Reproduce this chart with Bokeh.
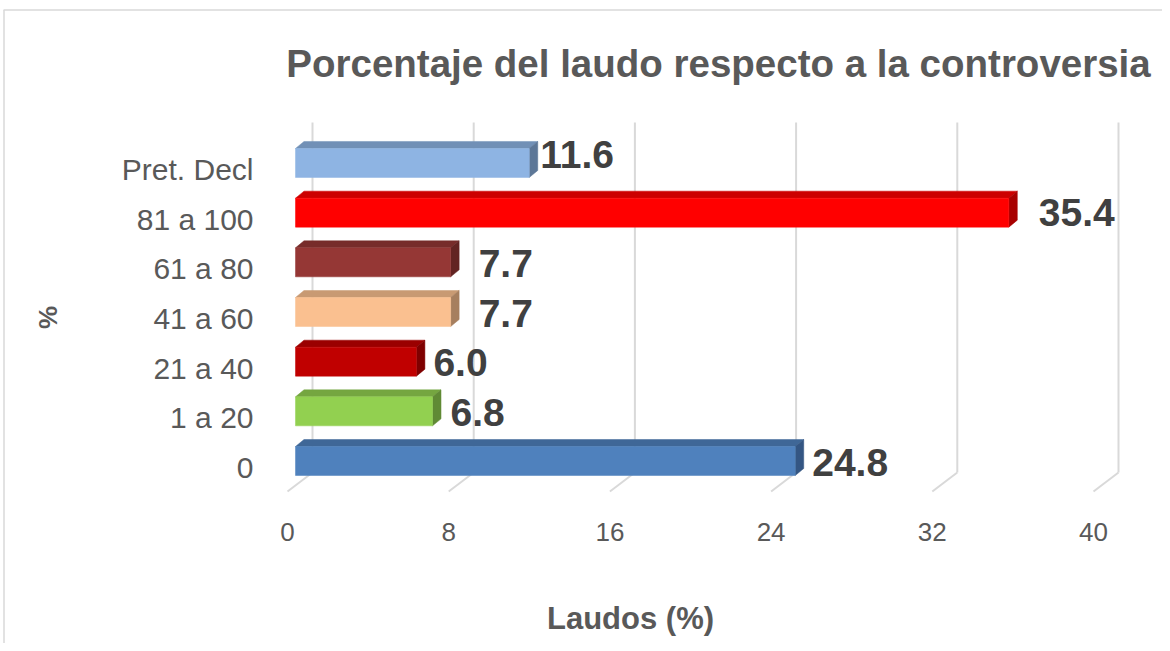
from bokeh.plotting import figure
from bokeh.models import Range1d
from bokeh.core.properties import value
from bokeh.embed import file_html
from bokeh.resources import INLINE

# ---- data (bottom to top) ----
categories = ["0", "1 a 20", "21 a 40", "41 a 60", "61 a 80", "81 a 100", "Pret. Decl"]
values = [24.8, 6.8, 6.0, 7.7, 7.7, 35.4, 11.6]
value_labels = ["24.8", "6.8", "6.0", "7.7", "7.7", "35.4", "11.6"]
x_ticks = [0, 8, 16, 24, 32, 40]
x_tick_labels = ["0", "8", "16", "24", "32", "40"]
title_text = "Porcentaje del laudo respecto a la controversia"
x_title = "Laudos (%)"
y_title = "%"

# ---- styles ----
front_colors = ["#4F81BD", "#92D050", "#C00000", "#FAC090", "#953735", "#FF0000", "#8EB4E3"]
top_colors = ["#3F6797", "#75A640", "#9A0000", "#C89A73", "#772C2A", "#CC0000", "#7190B6"]
side_colors = ["#345683", "#608A35", "#7F0000", "#A67F5F", "#622422", "#A80000", "#5D7797"]
label_dx_px = [17, 18, 17, 28, 28, 30, 11]
label_dy_px = [1, 1.5, 1, 2, 1, 0, -8]

FONT = "Liberation Sans"
W, H = 1162, 643
PX = 20.15      # pixels per x unit
X0S = 295       # screen x of value 0 (bar fronts)
PY = 49.67      # pixels per category step
Y0S = 460.5     # screen y of first category centre

VAL_FS = 39
CAT_FS = 30
TICK_FS = 26
TITLE_FS = 38.5
XT_FS = 31
YT_FS = 26


def sx(px):
    return (px - X0S) / PX


def sy(py):
    return (Y0S - py) / PY


def dx(px):
    return px / PX


def dy(px):
    return px / PY


p = figure(width=W, height=H, output_backend="svg", toolbar_location=None,
           x_range=Range1d(sx(0), sx(W)), y_range=Range1d(sy(H), sy(0)),
           min_border=0, x_axis_location=None, y_axis_location=None)
p.grid.visible = False
p.outline_line_color = None
p.background_fill_color = "white"
p.border_fill_color = "white"

# chart border (top and left)
p.segment(x0=[sx(3), sx(3.5)], y0=[sy(9.5), sy(9.5)], x1=[sx(W), sx(3.5)], y1=[sy(9.5), sy(H)],
          line_color="#D9D9D9", line_width=1.5)

# 3D gridlines: back wall verticals and floor diagonals
back = [t + dx(17) for t in x_ticks]
front = [t + dx(-8) for t in x_ticks]
p.segment(x0=back, y0=[sy(122)] * len(x_ticks), x1=back, y1=[sy(472)] * len(x_ticks),
          line_color="#D9D9D9", line_width=2)
p.segment(x0=back, y0=[sy(472)] * len(x_ticks), x1=front, y1=[sy(491)] * len(x_ticks),
          line_color="#D9D9D9", line_width=2)

# bars
hh = dy(14.5)
ddx = dx(8.5)
ddy = dy(7)
ys = list(range(len(categories)))
top_xs, top_ys, side_xs, side_ys = [], [], [], []
for i, v in zip(ys, values):
    top_xs.append([0, v, v + ddx, ddx])
    top_ys.append([i + hh, i + hh, i + hh + ddy, i + hh + ddy])
    side_xs.append([v, v, v + ddx, v + ddx])
    side_ys.append([i - hh, i + hh, i + hh + ddy, i - hh + ddy])
p.patches(xs=top_xs, ys=top_ys, fill_color=top_colors, line_color=top_colors, line_width=0.5)
p.patches(xs=side_xs, ys=side_ys, fill_color=side_colors, line_color=side_colors, line_width=0.5)
p.quad(left=[0] * len(values), right=values, bottom=[i - hh for i in ys], top=[i + hh for i in ys],
       fill_color=front_colors, line_color=front_colors, line_width=0.5)

# value labels
p.text(x=[v + dx(o) for v, o in zip(values, label_dx_px)],
       y=[i - dy(o) for i, o in zip(ys, label_dy_px)], text=value_labels,
       text_font=value(FONT), text_font_style="bold", text_font_size=f"{VAL_FS}px",
       text_color="#404040", text_align="left", text_baseline="middle")

# category labels
p.text(x=[sx(253)] * len(categories), y=[i - dy(6.5) for i in ys], text=categories,
       text_font=value(FONT), text_font_size=f"{CAT_FS}px", text_color="#595959",
       text_align="right", text_baseline="middle")

# x tick labels
p.text(x=front, y=[sy(531.5)] * len(x_ticks), text=x_tick_labels,
       text_font=value(FONT), text_font_size=f"{TICK_FS}px", text_color="#595959",
       text_align="center", text_baseline="middle")

# title
p.text(x=[sx(718)], y=[sy(62.5)], text=[title_text], text_font=value(FONT),
       text_font_style="bold", text_font_size=f"{TITLE_FS}px", text_color="#595959",
       text_align="center", text_baseline="middle")

# axis titles
p.text(x=[sx(630)], y=[sy(618)], text=[x_title], text_font=value(FONT),
       text_font_style="bold", text_font_size=f"{XT_FS}px", text_color="#595959",
       text_align="center", text_baseline="middle")
p.text(x=[sx(47)], y=[sy(317)], text=[y_title], text_font=value(FONT),
       text_font_style="bold", text_font_size=f"{YT_FS}px", text_color="#595959", angle=1.5708,
       text_align="center", text_baseline="middle")

open("out.html", "w").write(file_html(p, INLINE))
